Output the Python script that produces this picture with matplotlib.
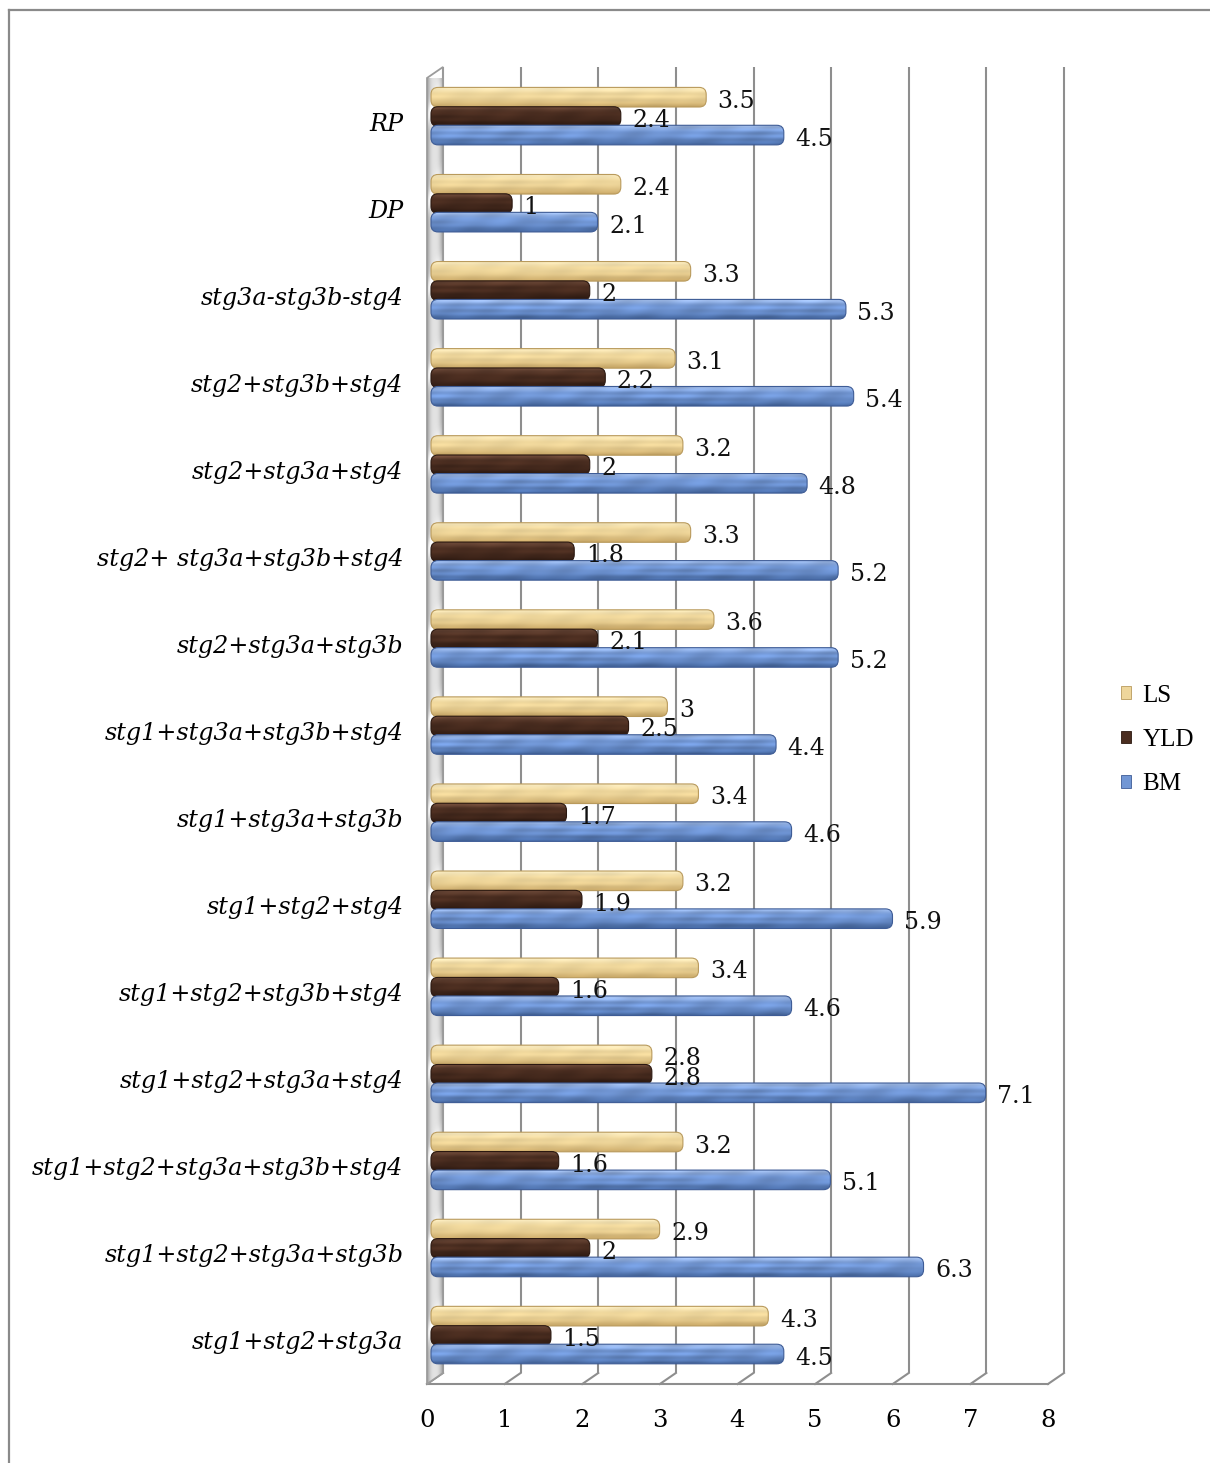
import numpy as np
import matplotlib
matplotlib.use("Agg")
import matplotlib.pyplot as plt
from matplotlib.patches import FancyBboxPatch, Polygon, Rectangle
from matplotlib.lines import Line2D
from matplotlib.colors import to_rgb

# categories listed bottom to top, as they appear on the vertical axis
categories = [
    "stg1+stg2+stg3a",
    "stg1+stg2+stg3a+stg3b",
    "stg1+stg2+stg3a+stg3b+stg4",
    "stg1+stg2+stg3a+stg4",
    "stg1+stg2+stg3b+stg4",
    "stg1+stg2+stg4",
    "stg1+stg3a+stg3b",
    "stg1+stg3a+stg3b+stg4",
    "stg2+stg3a+stg3b",
    "stg2+ stg3a+stg3b+stg4",
    "stg2+stg3a+stg4",
    "stg2+stg3b+stg4",
    "stg3a-stg3b-stg4",
    "DP",
    "RP",
]
ls_values = [4.3, 2.9, 3.2, 2.8, 3.4, 3.2, 3.4, 3.0, 3.6, 3.3, 3.2, 3.1, 3.3, 2.4, 3.5]
yld_values = [1.5, 2.0, 1.6, 2.8, 1.6, 1.9, 1.7, 2.5, 2.1, 1.8, 2.0, 2.2, 2.0, 1.0, 2.4]
bm_values = [4.5, 6.3, 5.1, 7.1, 4.6, 5.9, 4.6, 4.4, 5.2, 5.2, 4.8, 5.4, 5.3, 2.1, 4.5]
series_names = ["LS", "YLD", "BM"]
x_ticks = [0, 1, 2, 3, 4, 5, 6, 7, 8]

# texture colours per series: (highlight, body, shadow, outline)
series_colors = {
    "LS": ("#faedc4", "#eed69b", "#c9a867", "#b99a5c"),
    "YLD": ("#6e4b3a", "#4a2d20", "#2b1810", "#2b1810"),
    "BM": ("#a3bde8", "#7196d4", "#45679f", "#3e5c96"),
}
# strength of the grain in each texture
grain = {"LS": 0.35, "YLD": 1.0, "BM": 0.9}
grid_color = "#8e8e8e"

W, H, DPI = 1210, 1463, 100
fig = plt.figure(figsize=(W / DPI, H / DPI), dpi=DPI)

# front plane of the 3-D box, in pixels
FX0, FX1, FY_TOP, FY_BOT = 427, 1048, 78, 1384
ax = fig.add_axes([FX0 / W, 1 - FY_BOT / H, (FX1 - FX0) / W, (FY_BOT - FY_TOP) / H])
n = len(categories)
ax.set_facecolor("none")
for s in ax.spines.values():
    s.set_visible(False)

sx = (FX1 - FX0) / 8.0          # pixels per x unit
sy = (FY_BOT - FY_TOP) / n      # pixels per category
BX, BY = 16 / sx, 11 / sy       # depth offset of the back plane
MX, MY = 4 / sx, 5 / sy         # bars sit half way into the box
CAP = 3.5 / sx

y_lo, y_hi = -0.5, n - 0.5

# back wall gridlines
for k in x_ticks:
    ax.plot([k + BX, k + BX], [y_lo + BY, y_hi + BY], color=grid_color, lw=1.5,
            clip_on=False, zorder=1, solid_capstyle="butt")

# floor: front edge, depth ticks, right edge
ax.plot([0, 8], [y_lo, y_lo], color=grid_color, lw=1.5, clip_on=False, zorder=1)
for k in x_ticks:
    ax.plot([k, k + BX], [y_lo, y_lo + BY], color=grid_color, lw=1.5, clip_on=False, zorder=1)

# left side wall, grey metal with a shine between the bar groups
wall = Polygon([(0, y_lo), (BX, y_lo + BY), (BX, y_hi + BY), (0, y_hi)], closed=True,
               facecolor="none", edgecolor="#9c9c9c", lw=1.3, zorder=3, clip_on=False)
ax.add_patch(wall)
rows = 1400
wy = np.linspace(y_hi + BY, y_lo, rows)[:, None]
wx = np.linspace(0, 1, 20)[None, :]
wall_base = 0.93 - 0.28 * (np.abs(wx - 0.5) * 2) ** 2.5
phase = (wy - 0.5 - MY - wx * 0.35) % 1.0
shine = np.exp(-((phase - 0.5) / 0.13) ** 2) * (1 - wx * 0.6)
wall_img = np.clip(wall_base + 0.22 * shine - 0.04, 0, 1)
im = ax.imshow(np.dstack([wall_img] * 3), extent=(0, BX, y_lo, y_hi + BY), aspect="auto",
               origin="upper", zorder=2, interpolation="bilinear")
im.set_clip_path(wall)


def bar_texture(name, length_px, height_px, phase):
    cols = series_colors[name]
    top, body, shadow = (np.array(to_rgb(c)) for c in cols[:3])
    t = np.linspace(0, 1, height_px)[:, None, None]
    w_top = np.clip(1 - t / 0.35, 0, 1) ** 1.2
    w_bot = np.clip((t - 0.45) / 0.55, 0, 1) ** 1.4
    base = body * (1 - w_top - w_bot) + top * w_top + shadow * w_bot
    x = np.arange(max(length_px, 2))[None, :, None]
    # mostly horizontal grain, broken up along the bar
    streak = (0.08 * np.sin(t * 19 + phase) * (0.6 + 0.4 * np.sin(x * 0.045 + phase * 2))
              + 0.06 * np.sin(x * 0.11 + phase) * np.sin(t * 7 + 1.3)
              + 0.04 * np.sin(x * 0.31 + t * 4 + phase))
    return np.clip(base * (1 + grain[name] * streak), 0, 1)


offsets = {"LS": 0.222, "YLD": 0.0, "BM": -0.213}
bar_h = 0.225
values = {"LS": ls_values, "YLD": yld_values, "BM": bm_values}

for i in range(n):
    for j, name in enumerate(series_names):
        v = values[name][i]
        cols = series_colors[name]
        yc = i + MY + offsets[name]
        x0, w = MX, v + CAP
        patch = FancyBboxPatch((x0, yc - bar_h / 2), w, bar_h,
                               boxstyle="round,pad=0,rounding_size=0.09",
                               mutation_aspect=sx / sy,
                               facecolor="none", edgecolor=cols[3], lw=0.8,
                               zorder=5 + j, clip_on=False)
        ax.add_patch(patch)
        tex = bar_texture(name, int(v * sx / 2), 24, i * 1.7 + j * 2.3)
        bim = ax.imshow(tex, extent=(x0, x0 + w, yc - bar_h / 2, yc + bar_h / 2),
                        aspect="auto", origin="upper", zorder=4 + j,
                        interpolation="bilinear")
        bim.set_clip_path(patch)
        ax.text(x0 + w + 11.5 / sx, yc - 4 / sy, f"{v:g}", ha="left", va="center",
                fontsize=17, family="DejaVu Serif", color="#111111", zorder=10)

ax.set_xlim(0, 8)
ax.set_ylim(y_lo, y_hi)

ax.set_xticks(x_ticks)
ax.set_xticklabels([str(k) for k in x_ticks], family="DejaVu Serif", fontsize=17.5)
ax.set_yticks(range(n))
ax.set_yticklabels(categories, family="DejaVu Serif", style="italic", fontsize=17.2)
ax.tick_params(axis="x", length=0, pad=18)
ax.tick_params(axis="y", length=0, pad=17)

# legend with small square swatches
handles = [Rectangle((0, 0), 1, 1, facecolor=series_colors[nm][1],
                     edgecolor=series_colors[nm][3], lw=0.6) for nm in series_names]
fig.legend(handles, series_names, loc="center left",
           bbox_to_anchor=(1121 / W, 1 - 740 / H), frameon=False, borderpad=0,
           borderaxespad=0, prop={"family": "Liberation Serif", "size": 18},
           handlelength=0.4, handleheight=0.4, handletextpad=0.45, labelspacing=0.9)

# outer chart border (top and left edges visible)
fig.add_artist(Line2D([9 / W, 1], [1 - 10 / H, 1 - 10 / H], color="#8a8a8a", lw=1.6))
fig.add_artist(Line2D([9 / W, 9 / W], [0, 1 - 10 / H], color="#8a8a8a", lw=1.6))

fig.savefig("out.png", dpi=DPI)
